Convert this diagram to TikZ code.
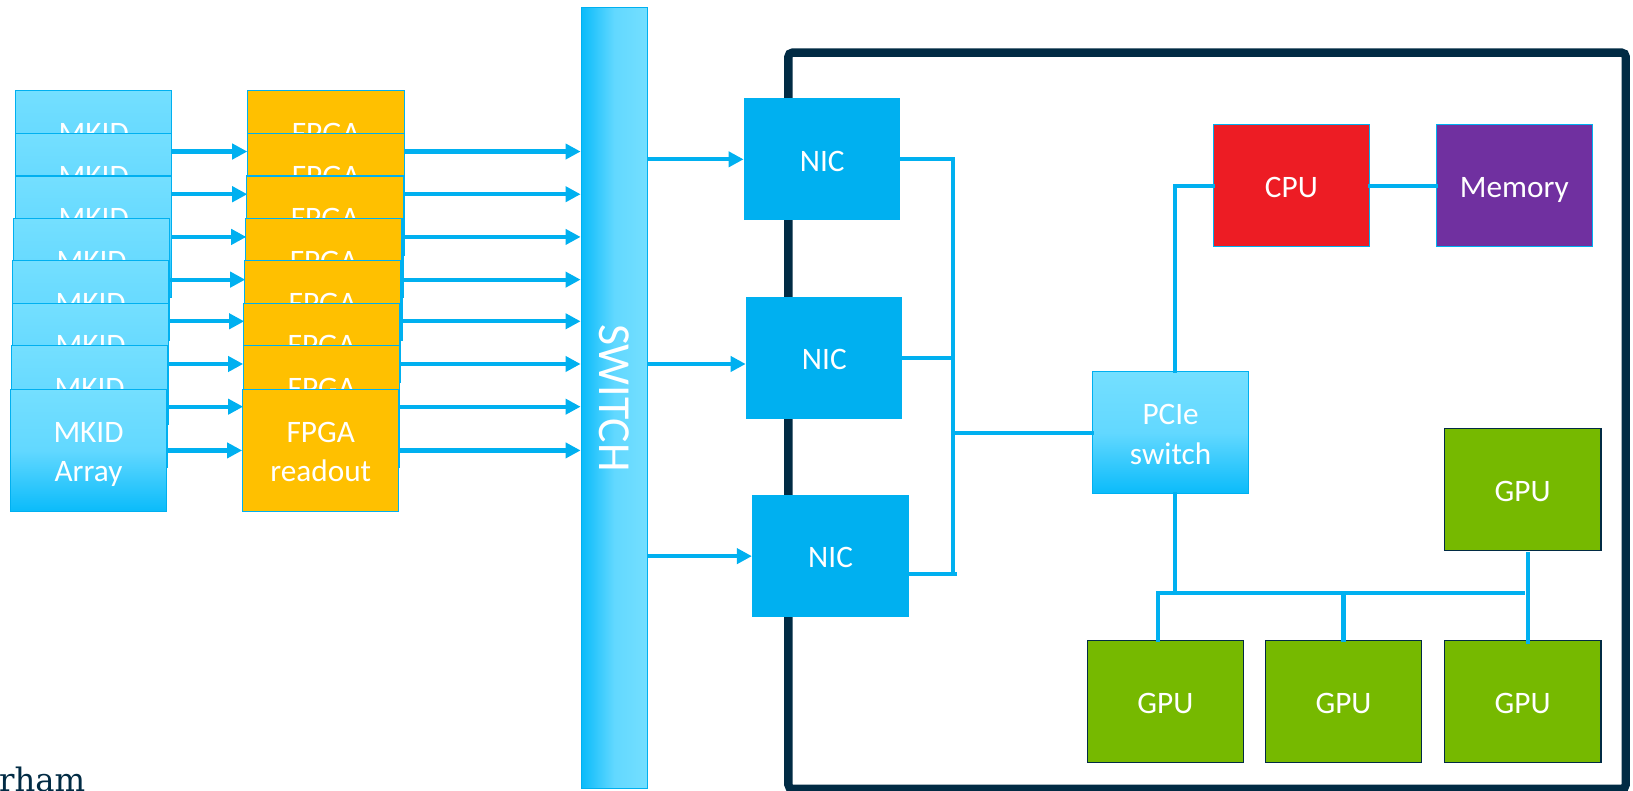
\documentclass[tikz,border=0pt]{standalone}
\usepackage{fontspec}
\setmainfont{Carlito}
\newfontfamily\serifdj{DejaVu Serif}
\usetikzlibrary{arrows.meta}
\definecolor{lb}{HTML}{00B0F0}
\definecolor{ltop}{HTML}{74DFFF}
\definecolor{lmid}{HTML}{62D8FF}
\definecolor{lbot}{HTML}{0ABBFA}
\definecolor{fpgaor}{HTML}{FFC000}
\definecolor{cpured}{HTML}{ED1C24}
\definecolor{mempurple}{HTML}{7030A0}
\definecolor{gpugreen}{HTML}{76B900}
\definecolor{navy}{HTML}{012B44}
\tikzset{
  box/.style={minimum width=150pt, minimum height=117pt, inner sep=0pt, text=white,
    font=\fontsize{30}{38}\selectfont, align=center, line width=1pt,
    text height=22.4pt, text depth=0pt},
  twoline/.style={text height=60.4pt, text depth=0pt},
  grad/.style={box, twoline, draw=lb, top color=ltop, bottom color=lbot, middle color=lmid},
  fpgabox/.style={box, twoline, draw=lb, fill=fpgaor},
  nicbox/.style={box, fill=lb},
  cpubox/.style={box, draw=lb, fill=cpured},
  membox/.style={box, draw=lb, fill=mempurple},
  gpubox/.style={box, draw=navy, line width=1.5pt, fill=gpugreen},
  conn/.style={draw=lb, line width=4pt, line cap=rect},
  arr/.style={draw=lb, line width=4pt, -{Triangle[length=14.5pt,width=14.5pt]}},
}
\begin{document}
\begin{tikzpicture}[x=1pt,y=-1pt]
\useasboundingbox (0,0) rectangle (1568,759);

% server frame
\node[draw=navy, line width=8pt, rounded corners=4pt, minimum width=804pt,
  minimum height=707pt, inner sep=0pt] (server) at (1159,404) {};

% MKID and FPGA stacks
\foreach \i/\t/\ml/\fl in {1/87/15/238, 2/128/15/238, 3/169/15/237, 4/210/13/236,
    5/250/12/235, 6/291/12/234, 7/332/11/234, 8/374/10/233}{
  \node[grad] (mkid\i) at (\ml+75,\t+58.5) {MKID\\Array};
  \node[fpgabox] (fpga\i) at (\fl+75,\t+58.5) {FPGA\\readout};
}

% switch
\node[minimum width=64pt, minimum height=750pt, inner sep=0pt, draw=lb, line width=1pt,
  left color=lbot, right color=ltop, middle color=lmid] (sw) at (590,382) {};
\node[rotate=-90, text=white, font=\fontsize{44}{44}\selectfont] (swtext) at (sw.center) {SWITCH};

\foreach \i in {1,...,8}{
  \draw[arr] (mkid\i.east) -- (fpga\i.west);
  \draw[arr] (fpga\i.east) -- (fpga\i.east -| sw.west);
}

% NICs
\node[nicbox] (nic1) at (789.5,153) {NIC};
\node[nicbox] (nic2) at (791.5,343.5) {NIC};
\node[nicbox] (nic3) at (797.5,534) {NIC};
\coordinate (nic2in) at ([yshift=-6pt]nic2.west);

\draw[arr] (sw.east |- nic1.west) -- (nic1.west);
\draw[arr] (sw.east |- nic2in) -- (nic2in);
\draw[arr] (sw.east |- nic3.west) -- (nic3.west);

% PCIe, CPU, memory, GPUs
\node[grad] (pcie) at (1124,415.5) {PCIe\\switch};
\node[cpubox] (cpu) at (1240,178.5) {CPU};
\node[membox] (mem) at (1454,178.5) {Memory};
\node[gpubox] (gputop) at (1462,470) {GPU};
\node[gpubox] (gpu1) at (1119,673.5) {GPU};
\node[gpubox] (gpu2) at (1290,673.5) {GPU};
\node[gpubox] (gpu3) at (1462,673.5) {GPU};

% NIC bus
\coordinate (nb) at (915,0);
\coordinate (nb3) at (917,551);
\draw[conn] (nic1.east) -- (nic1.east -| nb);
\draw[conn] (nic2.east) -- (nic2.east -| nb);
\draw[conn] (nic3.east |- nb3) -- (nb3);
\draw[conn] (nic1.east -| nb) -- (nb3 -| nb);
\draw[conn] (nb |- pcie.west) -- (pcie.west);

% PCIe to CPU, CPU to memory
\coordinate (pcieup) at ([xshift=4pt]pcie.north);
\coordinate (pciedn) at ([xshift=4pt]pcie.south);
\draw[conn] (pcieup) |- (cpu.west);
\draw[conn] (cpu.east) -- (mem.west);

% GPU bus
\coordinate (gb) at (0,569);
\coordinate (g1in) at ([xshift=-7pt]gpu1.north);
\coordinate (gtout) at ([xshift=5pt,yshift=-3pt]gputop.south);
\coordinate (g3in) at ([xshift=5pt,yshift=-2pt]gpu3.north);
\draw[conn] (pciedn) -- (pciedn |- gb);
\draw[conn] (g1in |- gb) -- (gputop.south |- gb);
\draw[conn] (g1in |- gb) -- (g1in);
\draw[conn] (gpu2.north |- gb) -- (gpu2.north);
\draw[conn] (gtout) -- (g3in);

% cut-off caption
\node[anchor=base west, inner sep=0pt, text=navy, font=\serifdj\fontsize{31}{31}\selectfont]
  (cap) at (-1,760) {rham};
\end{tikzpicture}
\end{document}
